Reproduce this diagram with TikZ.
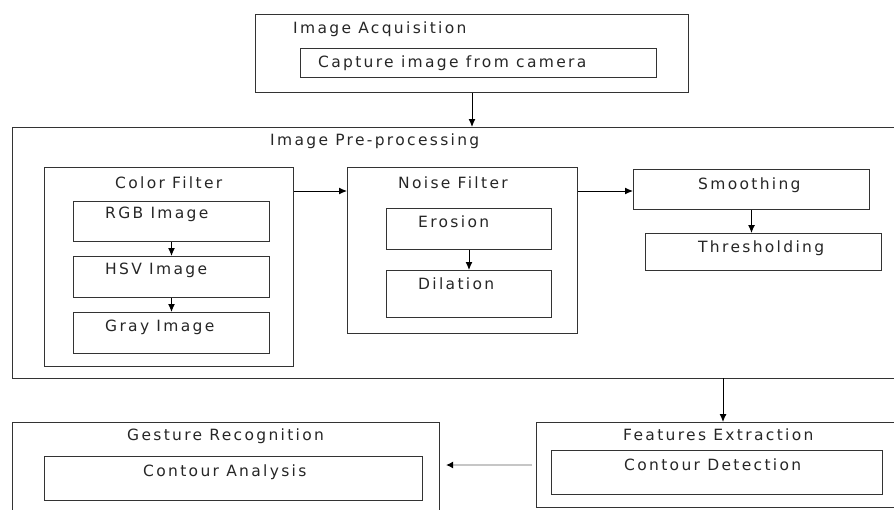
\documentclass[tikz,border=0pt]{standalone}
\usepackage{fontspec}
\newfontfamily\boxfont[LetterSpace=15]{DejaVu Sans}
\usetikzlibrary{arrows.meta,positioning,calc}
\tikzset{box/.style={
            draw=black!80,
            line width=1pt,
            inner sep=0pt,
            anchor=north west
        },
        lbl/.style={
            anchor=base west,
            inner sep=0pt,
            text=black!85,
            font=\boxfont\fontsize{15.5}{18}\selectfont
        },
        arrow/.style={
            -{Latex[length=8pt,width=7pt]},
            line width=1pt
        },
        grayarrow/.style={
            -{Latex[length=7pt,width=7pt,black]},
            line width=2.4pt,
            gray!45
        }
    }

\begin{document}
\begin{tikzpicture}[x=1pt,y=-1pt]
\useasboundingbox (0,0) rectangle (894,509);
\clip (0,0) rectangle (894,509);
% boxes
\node[box,minimum width=433pt,minimum height=78pt] (acq) at (255,14) {};
\node[box,minimum width=356pt,minimum height=29pt] (cap) at (300,48) {};
\node[box,minimum width=890pt,minimum height=251pt] (pre) at (12,127) {};
\node[box,minimum width=249pt,minimum height=199pt] (cf) at (44,167) {};
\node[box,minimum width=196pt,minimum height=40pt] (rgb) at (73,201) {};
\node[box,minimum width=196pt,minimum height=41pt] (hsv) at (73,256) {};
\node[box,minimum width=196pt,minimum height=41pt] (gray) at (73,312) {};
\node[box,minimum width=230pt,minimum height=166pt] (nf) at (347,167) {};
\node[box,minimum width=165pt,minimum height=41pt] (ero) at (386,208) {};
\node[box,minimum width=165pt,minimum height=47pt] (dil) at (386,270) {};
\node[box,minimum width=236pt,minimum height=40pt] (sm) at (633,169) {};
\node[box,minimum width=236pt,minimum height=37pt] (th) at (645,233) {};
\node[box,minimum width=427pt,minimum height=100pt] (ges) at (12,422) {};
\node[box,minimum width=378pt,minimum height=44pt] (ca) at (44,456) {};
\node[box,minimum width=370pt,minimum height=85pt] (fe) at (536,422) {};
\node[box,minimum width=331pt,minimum height=44pt] (cd) at (551,450) {};
% texts
\node[lbl] (acqt) at (293,33) {Image Acquisition};
\node[lbl] (capt) at (318,67) {Capture image from camera};
\node[lbl] (pret) at (270,145) {Image Pre-processing};
\node[lbl] (cft) at (115,188) {Color Filter};
\node[lbl] (rgbt) at (105,218) {RGB Image};
\node[lbl] (hsvt) at (105,274) {HSV Image};
\node[lbl] (grayt) at (105,331) {Gray Image};
\node[lbl] (nft) at (398,188) {Noise Filter};
\node[lbl] (erot) at (418,227) {Erosion};
\node[lbl] (dilt) at (418,289) {Dilation};
\node[lbl] (smt) at (698,189) {Smoothing};
\node[lbl] (tht) at (698,252) {Thresholding};
\node[lbl] (gest) at (127,440) {Gesture Recognition};
\node[lbl] (cat) at (143,476) {Contour Analysis};
\node[lbl] (fet) at (623,440) {Features Extraction};
\node[lbl] (cdt) at (624,470) {Contour Detection};
% arrows
\coordinate (prefe) at (723,378);
\draw[arrow] (acq.south) -- (acq.south |- pre.north);
\draw[arrow] (rgb.south) -- (hsv.north);
\draw[arrow] (hsv.south) -- (gray.north);
\draw[arrow] (ero.south) -- (dil.north);
\draw[arrow] ([yshift=-24pt]cf.north east) -- ([yshift=-24pt]nf.north west);
\draw[arrow] ([yshift=-24pt]nf.north east) -- ([yshift=-24pt]nf.north east -| sm.west);
\draw[arrow] (sm.south) -- (sm.south |- th.north);
\draw[arrow] (prefe) -- (prefe |- fe.north);
\draw[grayarrow] ([xshift=-4pt]fe.west) -- ([xshift=6pt]fe.west -| ges.east);
\end{tikzpicture}
\end{document}
